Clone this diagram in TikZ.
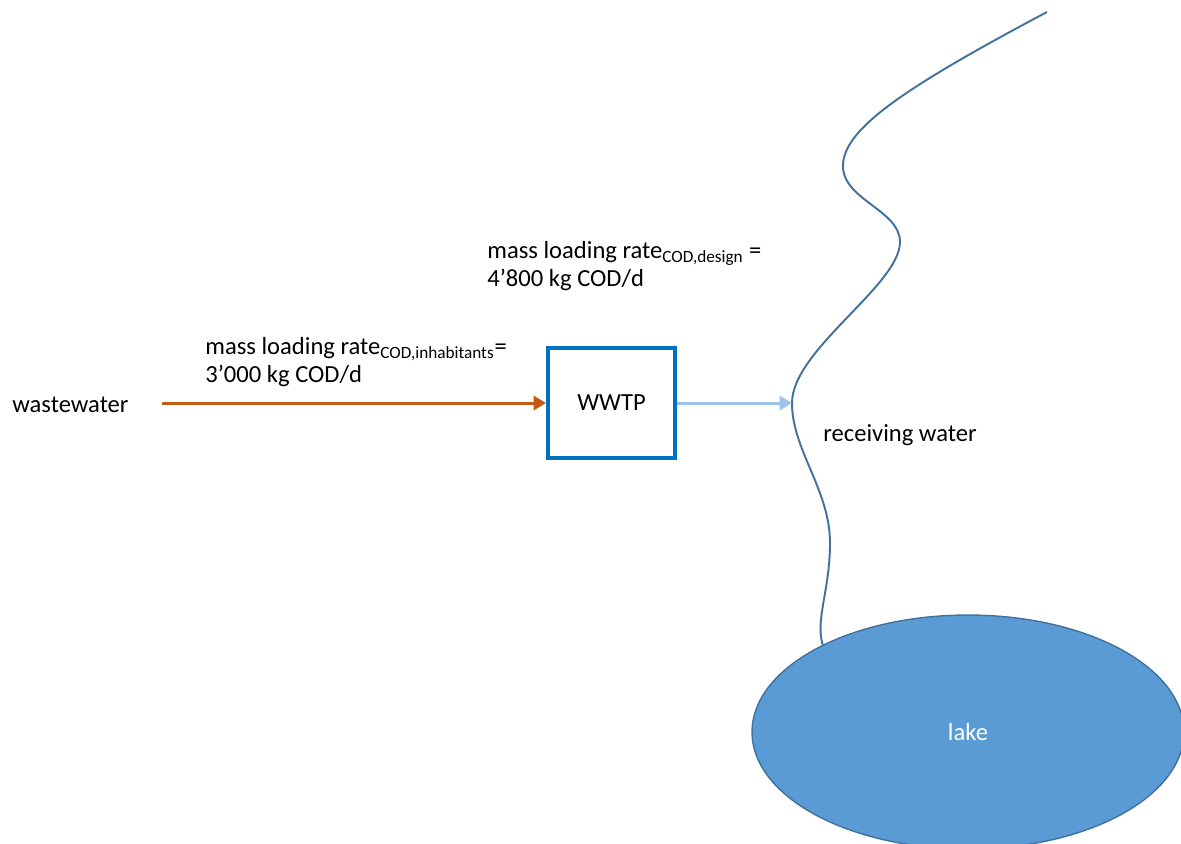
\documentclass[tikz,border=0pt]{standalone}
\usepackage{fontspec}
\setmainfont{Carlito}
\usepackage{tikz}
\usetikzlibrary{arrows.meta, shapes.geometric}
\definecolor{Ink}{HTML}{000000}
\definecolor{Plant}{HTML}{0070C0}
\definecolor{Sewage}{HTML}{C55A11}
\definecolor{Effluent}{HTML}{9DC3E6}
\definecolor{River}{HTML}{41719C}
\definecolor{LakeFill}{HTML}{5B9BD5}

\begin{document}
\begin{tikzpicture}[
  x=0.02cm, y=-0.02cm,
  font=\fontsize{14}{16}\selectfont,
  txt/.style={inner sep=0pt, align=left, anchor=west, text=Ink},
  plant/.style={draw=Plant, line width=2.3pt, fill=white, minimum width=2.54cm, minimum height=2.2cm},
  water/.style={ellipse, draw=River, line width=0.8pt, fill=LakeFill, text=white, minimum width=8.64cm, minimum height=4.68cm},
  flow/.style={-{Triangle[length=7pt, width=8pt]}, line width=1.7pt},
  river/.style={draw=River, line width=1.1pt}
]
\useasboundingbox (0,0) rectangle (1181,843);
\clip (0,0) rectangle (1181,843);

\node[water] (lake) at (968,732) {lake};
\node[plant] (wwtp) at (611.5,403) {WWTP};

\node[txt] (wastewater) at (12,405) {wastewater};
\node[txt] (loadin) at (205,362) {mass loading rate\textsubscript{COD,inhabitants}=\\3’000 kg COD/d};
\node[txt] (loaddesign) at (487,266) {mass loading rate\textsubscript{COD,design} =\\4’800 kg COD/d};
\node[txt] (receiving) at (823,435) {receiving water};

\coordinate (intake) at (162,403);
\coordinate (spring) at (1047,12);
\coordinate (mouth) at (792,403);

% receiving water, from the top down into the lake
\draw[river] (spring) .. controls (900,90) and (843,130) .. (843,166)
  .. controls (843,200) and (900,210) .. (900,242)
  .. controls (900,285) and (792,350) .. (mouth)
  .. controls (792,450) and (830,490) .. (830,543)
  .. controls (830,590) and (815,620) .. (lake.149);

\draw[flow, Sewage] (intake) -- (wwtp);
\draw[flow, Effluent] (wwtp) -- (mouth);
\end{tikzpicture}
\end{document}
